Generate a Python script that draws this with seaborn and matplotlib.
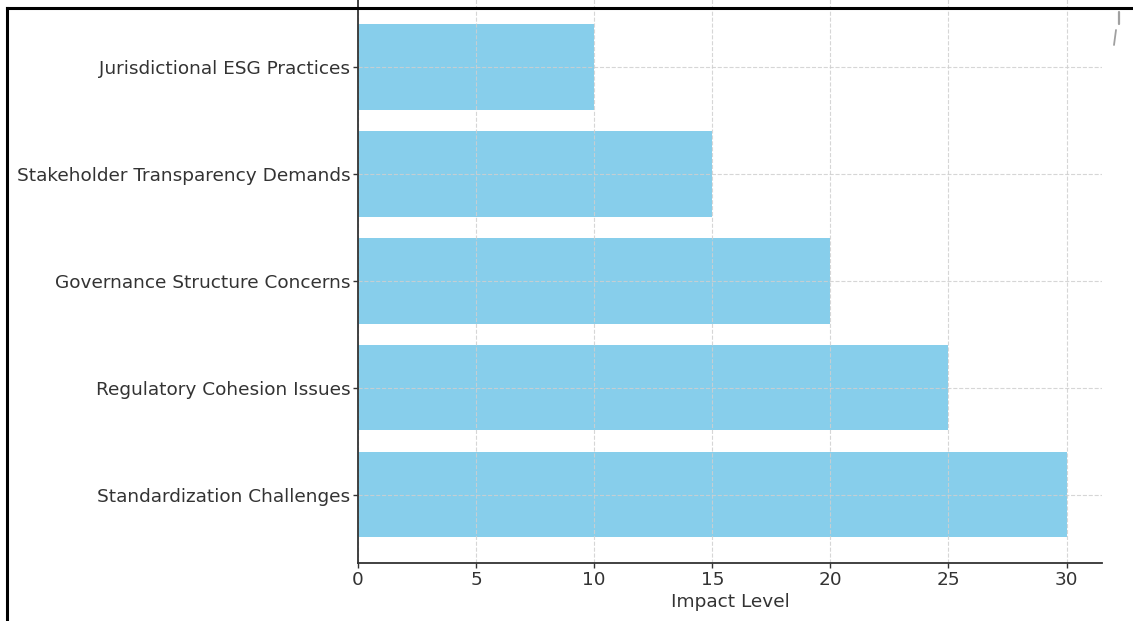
import matplotlib
matplotlib.use("Agg")
import matplotlib.pyplot as plt
from matplotlib.lines import Line2D
import seaborn as sns
import pandas as pd

categories = [
    "Jurisdictional ESG Practices",
    "Stakeholder Transparency Demands",
    "Governance Structure Concerns",
    "Regulatory Cohesion Issues",
    "Standardization Challenges",
]
impact = [10, 15, 20, 25, 30]
x_ticks = [0, 5, 10, 15, 20, 25, 30]

df = pd.DataFrame({"Challenge": categories, "Impact": impact})

sns.set_theme(style="ticks")
plt.rcParams["font.family"] = ["DejaVu Sans"]

W, H = 1133, 621
fig = plt.figure(figsize=(W / 100, H / 100), dpi=100)
ax = fig.add_axes([358 / W, 1 - 563 / H, (1102 - 358) / W, 563 / H + 0.002])

sns.barplot(data=df, x="Impact", y="Challenge", order=categories,
            color="#87CEEB", saturation=1, width=0.8, linewidth=0, ax=ax, zorder=1)

ax.set_xlim(0, 31.5)
ax.set_ylim(4.64, -0.64)
ax.set_xticks(x_ticks)
ax.grid(True, linestyle="--", color="#cfcfcf", linewidth=0.8, alpha=0.85)
ax.set_axisbelow(False)
for gl in ax.get_xgridlines() + ax.get_ygridlines():
    gl.set_zorder(1.5)

ax.set_xlabel("Impact Level", fontsize=13.3, color="#333333", labelpad=3)
ax.set_ylabel("")
ax.tick_params(axis="both", labelsize=13.3, colors="#333333", length=3.5, width=1, pad=2)
for side in ("top", "right"):
    ax.spines[side].set_visible(False)
for side in ("left", "bottom"):
    ax.spines[side].set_color("#333333")
    ax.spines[side].set_linewidth(1.3)
    ax.spines[side].set_zorder(3)

# outer frame
fig.add_artist(Line2D([7 / W, 7 / W], [0, 1 - 8 / H], transform=fig.transFigure,
                      color="black", linewidth=2.2, solid_capstyle="projecting"))
fig.add_artist(Line2D([7 / W, 1], [1 - 8 / H, 1 - 8 / H], transform=fig.transFigure,
                      color="black", linewidth=2.2, solid_capstyle="projecting"))
# small pen stroke near the top-right corner
fig.add_artist(Line2D([1119 / W, 1119 / W], [1 - 12 / H, 1 - 24 / H], transform=fig.transFigure,
                      color="#a0a0a0", linewidth=1.6))
fig.add_artist(Line2D([1116 / W, 1114 / W], [1 - 30 / H, 1 - 45 / H], transform=fig.transFigure,
                      color="#a0a0a0", linewidth=1.3))

fig.savefig("out.png", dpi=100, facecolor="white")
